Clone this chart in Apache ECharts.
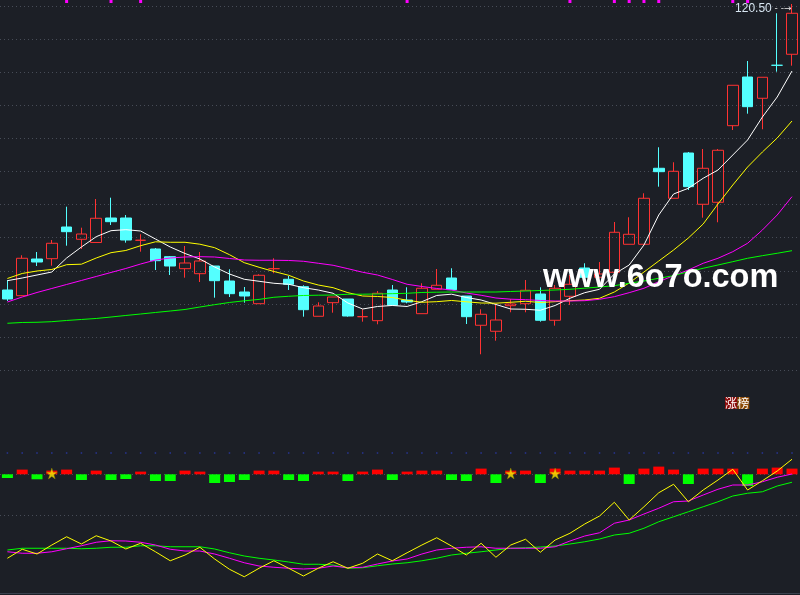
<!DOCTYPE html>
<html><head><meta charset="utf-8">
<script src="https://cdn.jsdelivr.net/npm/echarts@6/dist/echarts.min.js"></script>
<style>html,body{margin:0;padding:0;background:#1c1f26;}#c{width:800px;height:595px;}</style>
</head><body><div id="c"></div>
<script>
const categories = ['01','02','03','04','05','06','07','08','09','10','11','12','13','14','15','16','17','18','19','20','21','22','23','24','25','26','27','28','29','30','31','32','33','34','35','36','37','38','39','40','41','42','43','44','45','46','47','48','49','50','51','52','53','54'];

const open  = [49.0,47.58,56.75,56.83,64.75,61.68,60.88,67.0,67.0,61.43,59.25,57.33,54.33,53.08,55.0,51.25,48.5,45.58,54.33,51.68,49.83,42.43,45.83,46.75,42.33,41.33,49.0,46.5,43.08,49.18,52.0,47.5,40.18,38.68,45.08,45.58,48.0,41.43,47.43,54.5,52.18,53.43,60.43,60.43,79.43,71.93,83.25,70.43,70.93,90.08,102.25,96.93,105.18,107.93];
const close = [46.75,56.93,56.0,60.68,63.58,63.0,66.93,66.08,61.5,61.43,56.33,55.0,55.75,56.25,51.33,48.08,47.5,52.68,54.33,50.43,44.08,45.0,47.25,42.5,42.33,48.18,45.18,46.0,49.43,50.18,49.08,42.33,42.93,41.5,45.5,48.93,41.43,49.43,50.43,52.18,53.0,63.43,62.93,71.93,78.58,78.68,74.83,79.43,83.93,100.18,94.83,102.18,105.18,118.18];
const high  = [51.5,57.68,58.5,61.5,69.83,64.58,71.75,72.08,67.75,62.93,59.5,57.5,60.0,58.5,55.0,54.18,49.75,52.93,56.93,52.5,50.18,45.93,47.25,46.75,44.18,48.75,50.25,49.68,50.68,54.25,54.43,47.5,44.18,45.5,46.75,51.5,49.68,50.25,52.75,55.68,56.0,66.0,67.18,73.18,84.68,80.93,83.5,84.25,84.25,100.18,106.25,102.18,118.18,120.5];
const low   = [46.25,47.5,55.0,55.08,60.08,59.25,60.88,65.25,60.83,58.58,54.0,52.75,52.08,51.0,47.08,47.25,45.83,45.58,53.18,49.0,42.33,42.43,43.33,42.33,41.08,40.43,45.18,45.68,43.08,49.18,49.08,40.5,32.93,36.33,43.43,43.43,41.08,40.08,45.25,52.18,52.18,53.43,60.43,60.43,74.83,71.93,74.0,67.08,65.93,89.0,93.08,89.18,103.58,105.08];

const ma5  = [51.33,52.0,52.75,53.5,57.0,59.75,62.33,63.83,64.08,63.75,61.75,59.75,58.13,56.75,54.75,53.0,51.68,51.18,50.68,50.43,49.58,49.0,48.18,45.75,44.25,44.88,45.13,44.88,46.08,47.63,47.95,47.13,46.5,45.38,44.25,44.18,43.93,45.13,46.93,48.33,49.18,53.0,55.25,60.25,67.75,73.0,74.43,76.93,79.0,82.75,86.5,92.25,97.25,103.75];
const ma10 = [51.88,53.13,53.75,54.13,55.33,55.45,57.0,58.33,58.88,60.08,61.05,60.93,60.93,60.45,59.58,57.83,55.83,54.68,53.63,52.68,51.25,50.25,49.58,48.33,47.5,47.38,47.13,46.43,45.93,46.08,46.38,46.05,45.75,45.7,45.93,46.18,45.88,46.08,46.33,46.5,46.93,48.5,50.75,53.5,56.25,59.0,62.0,65.5,70.5,75.25,79.75,83.5,87.0,91.25];
const ma20 = [46.0,47.25,48.38,49.38,50.38,51.38,52.38,53.38,54.38,55.5,56.5,57.0,57.25,57.33,57.25,56.88,56.5,56.43,56.43,56.38,56.18,55.68,55.18,54.33,53.43,52.75,51.63,50.43,49.88,49.38,49.0,48.25,47.68,47.0,46.7,46.58,46.38,46.25,46.25,46.33,46.68,47.33,48.33,49.43,51.08,52.58,54.0,55.68,56.93,58.58,60.68,64.0,67.75,72.33];
const ma60 = [40.68,40.88,40.93,41.08,41.38,41.63,41.88,42.25,42.63,43.0,43.38,43.75,44.13,44.75,45.33,45.88,46.3,46.65,47.18,47.43,47.63,47.7,47.75,47.93,47.95,48.0,48.08,48.18,48.38,48.45,48.5,48.5,48.5,48.5,48.63,48.75,48.88,49.0,49.18,49.45,49.75,50.08,50.68,51.25,51.93,52.58,53.58,54.43,55.25,56.08,56.93,57.58,58.18,58.83];

const signalBars = [-3.7,4.7,-5,3.7,4.7,-5.7,3.7,-5.7,-4.7,2.7,-6.7,-6.7,3.7,2.7,-8.7,-7.7,-5.7,3.7,3.7,-5.7,-6.7,2.7,2.7,-6.7,2.7,4.7,-5.7,2.7,3.7,3.7,-5.7,-6.7,5.7,-8.7,3.7,3.7,-8.7,5.7,3.7,3.7,3.7,6.7,-9.7,5.7,7.7,4.7,-9.7,5.7,5.7,5.7,-11.7,5.7,6.7,5.7];
const indYellow  = [15.8,23.0,19.2,26.4,33.0,27.2,33.8,29.6,23.2,27.8,21.0,13.8,18.4,24.6,15.2,7.0,1.0,7.8,13.8,7.8,1.6,7.8,13.0,7.8,11.8,19.2,13.8,20.2,26.4,32.2,25.6,18.4,27.8,16.6,26.4,31.0,20.6,30.4,35.8,43.2,49.6,60.6,46.4,57.0,68.2,75.0,61.0,70.4,78.4,87.0,70.4,77.8,85.6,95.0];
const indMagenta = [21.0,19.8,19.8,21.0,23.4,25.8,28.6,29.8,29.6,28.6,26.4,23.0,21.6,21.6,19.2,15.8,12.2,9.6,8.6,7.8,7.2,7.8,9.6,8.2,8.6,11.2,13.6,15.2,19.2,22.4,23.8,24.6,25.0,23.8,23.8,23.8,23.8,25.0,29.6,33.6,36.2,43.8,46.4,51.2,55.8,61.0,61.6,66.4,71.0,74.4,74.4,77.0,80.6,83.2];
const indGreen   = [22.4,23.8,23.8,23.8,23.8,23.4,23.8,24.6,24.6,25.8,25.8,25.0,25.0,25.0,23.2,20.2,17.6,15.8,14.4,12.8,11.0,11.0,10.4,7.8,8.2,9.8,11.2,12.2,13.8,15.8,18.4,19.8,21.0,22.4,23.8,24.2,24.8,25.6,27.2,29.0,31.2,34.4,35.8,39.8,45.0,49.0,53.0,57.0,61.0,65.6,67.8,69.0,73.6,76.6];
const starIdx = [3, 34, 37];
const starLevel = 0.8;
const topMarkIdx = [4, 7, 9, 27, 38, 41, 42, 43, 44, 49, 50];
const refLevel = 100;
const peakLabel = '120.50';
const dojiColors = {9: '#ff3232', 18: '#ff3232', 24: '#ff3232', 52: '#54ffff'};

const UP = '#ff3232', DOWN = '#54ffff', BG = '#1c1f26', GRIDC = '#474c57';
const L = -3.6, W = 803;

const candleData = open.map((o, i) => {
  const item = {value: [o, close[i], low[i], high[i]]};
  if (dojiColors[i]) item.itemStyle = {color: dojiColors[i], color0: dojiColors[i], borderColor: dojiColors[i], borderColor0: dojiColors[i]};
  return item;
});
const topMarkData = categories.map((c, i) => topMarkIdx.includes(i) ? 1 : '-');
const barData = signalBars.map(v => ({value: v, itemStyle: {color: v > 0 ? '#ff0000' : '#00ff00'}}));
const starData = starIdx.map(i => [categories[i], starLevel]);
const refData = categories.map(c => [c, refLevel]);
const peakIdx = high.indexOf(Math.max(...high));

const hiddenX = (g) => ({type: 'category', data: categories, gridIndex: g, boundaryGap: true, show: false});
const starPath = 'path://M50,0 L61.8,35.3 L100,35.3 L69.1,57.1 L80.9,92.7 L50,70.8 L19.1,92.7 L30.9,57.1 L0,35.3 L38.2,35.3 Z';

const chart = echarts.init(document.getElementById('c'));
chart.setOption({
  backgroundColor: BG,
  animation: false,
  grid: [
    {left: L, width: W, top: 2, height: 401.2},
    {left: L, width: W, top: 0, height: 3},
    {left: L, width: W, top: 454.3, height: 40},
    {left: L, width: W, top: 453, height: 125},
    {left: L, width: W, top: 410.5, height: 183}
  ],
  xAxis: [
    hiddenX(0), hiddenX(1), hiddenX(2), hiddenX(3),
    {type: 'category', data: categories, gridIndex: 4, position: 'top', axisLine: {show: true, lineStyle: {color: '#3a414e', width: 1}}, axisTick: {show: false}, axisLabel: {show: false}},
    {type: 'category', data: categories, gridIndex: 4, position: 'bottom', axisLine: {show: true, lineStyle: {color: '#3a414e', width: 1}}, axisTick: {show: false}, axisLabel: {show: false}}
  ],
  yAxis: [
    {type: 'value', gridIndex: 0, min: 20.7, max: 121, show: false},
    {type: 'value', gridIndex: 0, min: -1, max: 11.1208, interval: 1, axisLine: {show: false}, axisTick: {show: false}, axisLabel: {show: false},
      splitLine: {show: true, showMinLine: false, showMaxLine: false, lineStyle: {color: GRIDC, type: [1, 3], width: 1}}},
    {type: 'value', gridIndex: 1, min: 0, max: 1, show: false},
    {type: 'value', gridIndex: 2, min: -20, max: 20, interval: 20, axisLine: {show: false}, axisTick: {show: false}, axisLabel: {show: false},
      splitLine: {show: true, showMinLine: false, showMaxLine: false, lineStyle: {color: GRIDC, type: [1, 3], width: 1}}},
    {type: 'value', gridIndex: 3, min: 0, max: 100, interval: 50, axisLine: {show: false}, axisTick: {show: false}, axisLabel: {show: false},
      splitLine: {show: true, showMinLine: false, showMaxLine: false, lineStyle: {color: GRIDC, type: [1, 3], width: 1}}},
    {type: 'value', gridIndex: 4, min: 0, max: 1, show: false}
  ],
  series: [
    {type: 'candlestick', xAxisIndex: 0, yAxisIndex: 0, data: candleData, barWidth: 11, clip: false,
      itemStyle: {color: 'transparent', color0: DOWN, borderColor: UP, borderColor0: DOWN, borderWidth: 1},
      markPoint: {symbol: 'circle', symbolSize: 1, itemStyle: {color: 'transparent'}, silent: true,
        data: [{coord: [categories[peakIdx], high[peakIdx]], value: peakLabel}],
        label: {show: true, position: 'left', distance: 0, offset: [0, 5],
          formatter: '{v|' + peakLabel + '}{a| - -→}',
          rich: {v: {color: '#d8e6f2', fontSize: 12, fontFamily: 'Liberation Sans'}, a: {color: '#e8e8e8', fontSize: 9, fontFamily: 'DejaVu Sans'}}}}
    },
    {type: 'line', name: 'MA5', xAxisIndex: 0, yAxisIndex: 0, data: ma5, symbol: 'none', lineStyle: {color: '#ffffff', width: 1}, z: 3},
    {type: 'line', name: 'MA10', xAxisIndex: 0, yAxisIndex: 0, data: ma10, symbol: 'none', lineStyle: {color: '#ffff00', width: 1}, z: 3},
    {type: 'line', name: 'MA20', xAxisIndex: 0, yAxisIndex: 0, data: ma20, symbol: 'none', lineStyle: {color: '#ff00ff', width: 1}, z: 3},
    {type: 'line', name: 'MA60', xAxisIndex: 0, yAxisIndex: 0, data: ma60, symbol: 'none', lineStyle: {color: '#00ff00', width: 1}, z: 3},
    {type: 'bar', xAxisIndex: 1, yAxisIndex: 2, data: topMarkData, barWidth: 3, itemStyle: {color: '#ff00ff'}},
    {type: 'bar', xAxisIndex: 2, yAxisIndex: 3, data: barData, barWidth: 11},
    {type: 'scatter', xAxisIndex: 3, yAxisIndex: 4, data: refData, symbol: 'rect', symbolSize: 1.5, itemStyle: {color: '#2a3bb0'}},
    {type: 'line', xAxisIndex: 3, yAxisIndex: 4, data: indGreen, symbol: 'none', lineStyle: {color: '#00ff00', width: 1}, z: 4},
    {type: 'line', xAxisIndex: 3, yAxisIndex: 4, data: indMagenta, symbol: 'none', lineStyle: {color: '#ff00ff', width: 1}, z: 4},
    {type: 'line', xAxisIndex: 3, yAxisIndex: 4, data: indYellow, symbol: 'none', lineStyle: {color: '#ffff00', width: 1}, z: 5},
    {type: 'scatter', xAxisIndex: 2, yAxisIndex: 3, data: starData, symbol: starPath, symbolSize: 11, itemStyle: {color: '#ffee00', borderColor: '#8a7a00', borderWidth: 0.5}, z: 6}
  ],
  graphic: [
    {type: 'text', left: 543, top: 262, z: 100,
      style: {text: 'www.6o7o.com', fill: '#ffffff', font: 'bold 32.5px "Liberation Sans"',
        textShadowColor: '#808080', textShadowOffsetX: 2, textShadowOffsetY: 2, textShadowBlur: 0,
        shadowColor: '#808080', shadowOffsetX: 2, shadowOffsetY: 2, shadowBlur: 0}},
    {type: 'text', left: 725, top: 397, z: 100,
      style: {text: '涨', fill: '#ffffff', font: '12px "Noto Sans CJK SC"', backgroundColor: '#8b0a0a'}},
    {type: 'text', left: 737.3, top: 397, z: 100,
      style: {text: '榜', fill: '#ffffff', font: '12px "Noto Sans CJK SC"', backgroundColor: '#8c4a06'}}
  ]
});
</script>
</body></html>
